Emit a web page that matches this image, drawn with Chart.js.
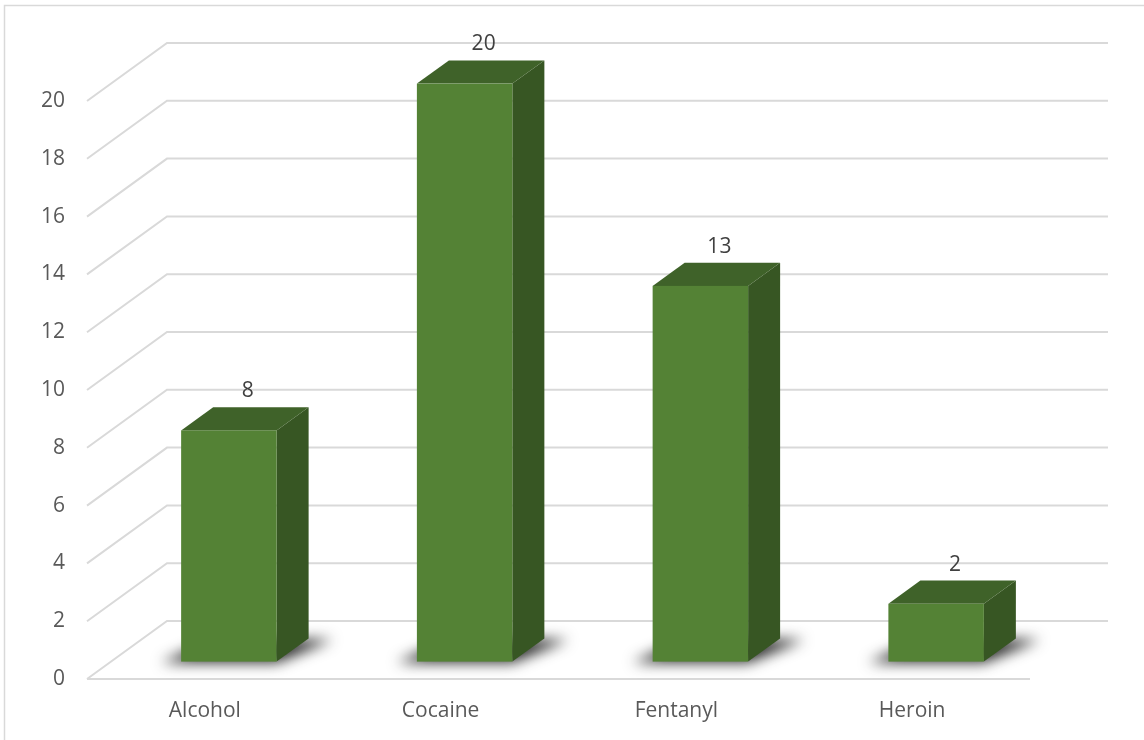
<!DOCTYPE html>
<html>
<head>
<meta charset="utf-8">
<script src="https://cdn.jsdelivr.net/npm/chart.js@4.4.0/dist/chart.umd.min.js"></script>
<style>
html,body{margin:0;padding:0;background:#fff;}
#wrap{width:1144px;height:740px;position:relative;}
</style>
</head>
<body>
<div id="wrap"><canvas id="c" width="1144" height="740"></canvas></div>
<script>
const categories = ["Alcohol", "Cocaine", "Fentanyl", "Heroin"];
const values = [8, 20, 13, 2];
const yTicks = [0, 2, 4, 6, 8, 10, 12, 14, 16, 18, 20];

const DEPTH_X = 80, DEPTH_Y = -58;
const BAR_FRONT = 0.3, BAR_BACK = 0.7;
const FONT = "'Open Sans', sans-serif";

const threeD = {
  id: 'threeD',
  beforeDraw(chart) {
    const ctx = chart.ctx;
    ctx.save();
    ctx.strokeStyle = '#d9d9d9';
    ctx.lineWidth = 1.5;
    ctx.strokeRect(4.5, 5.5, 1200, 800);
    ctx.restore();
  },
  beforeDatasetsDraw(chart) {
    const ctx = chart.ctx, y = chart.scales.y, a = chart.chartArea;
    ctx.save();
    ctx.strokeStyle = '#d9d9d9';
    ctx.lineWidth = 2;
    yTicks.forEach(v => {
      const yf = y.getPixelForValue(v);
      ctx.beginPath();
      ctx.moveTo(a.left, yf);
      ctx.lineTo(a.left + DEPTH_X, yf + DEPTH_Y);
      ctx.lineTo(a.right + DEPTH_X - 2, yf + DEPTH_Y);
      ctx.stroke();
    });
    const y0 = y.getPixelForValue(0);
    ctx.beginPath();
    ctx.moveTo(a.left, y0);
    ctx.lineTo(a.right, y0);
    ctx.stroke();
    ctx.restore();
  },
  afterDatasetsDraw(chart) {
    const ctx = chart.ctx;
    const meta = chart.getDatasetMeta(0);
    const fx = DEPTH_X * BAR_FRONT, fy = DEPTH_Y * BAR_FRONT;
    const dx = DEPTH_X * (BAR_BACK - BAR_FRONT), dy = DEPTH_Y * (BAR_BACK - BAR_FRONT);
    meta.data.forEach((bar, i) => {
      const w = bar.width;
      const L = bar.x - w / 2 + fx, R = bar.x + w / 2 + fx;
      const T = bar.y + fy, B = bar.base + fy;
      // shadow
      ctx.save();
      ctx.filter = 'blur(7px)';
      ctx.fillStyle = 'rgba(25,25,25,0.95)';
      ctx.beginPath();
      ctx.moveTo(L - 20, B + 1);
      ctx.lineTo(R, B + 1);
      ctx.lineTo(R + dx + 24, B + dy + 1);
      ctx.lineTo(L + dx, B + dy + 1);
      ctx.closePath();
      ctx.fill();
      ctx.restore();
      ctx.save();
      // right face
      ctx.fillStyle = '#375623';
      ctx.beginPath();
      ctx.moveTo(R, B); ctx.lineTo(R, T); ctx.lineTo(R + dx, T + dy); ctx.lineTo(R + dx, B + dy);
      ctx.closePath(); ctx.fill();
      // top face
      ctx.fillStyle = '#3f6229';
      ctx.beginPath();
      ctx.moveTo(L, T); ctx.lineTo(R, T); ctx.lineTo(R + dx, T + dy); ctx.lineTo(L + dx, T + dy);
      ctx.closePath(); ctx.fill();
      // front face
      ctx.fillStyle = '#548235';
      ctx.fillRect(L, T, w, B - T);
      // label
      ctx.fillStyle = '#404040';
      ctx.font = '21px ' + FONT;
      ctx.textAlign = 'center';
      ctx.textBaseline = 'middle';
      ctx.fillText(String(values[i]), bar.x + fx + 19, T + dy - 16);
      ctx.restore();
    });
  }
};

new Chart(document.getElementById('c'), {
  type: 'bar',
  data: {
    labels: categories,
    datasets: [{
      data: values,
      backgroundColor: 'rgba(0,0,0,0)',
      borderWidth: 0,
      categoryPercentage: 1,
      barPercentage: 0.405
    }]
  },
  options: {
    responsive: false,
    animation: false,
    events: [],
    layout: { padding: { left: 0, right: 114, top: 101, bottom: 0 } },
    plugins: { legend: { display: false }, tooltip: { enabled: false }, title: { display: false } },
    scales: {
      x: {
        grid: { display: false, drawTicks: false },
        border: { display: false },
        ticks: { color: '#595959', font: { family: FONT, size: 21 }, padding: 19 },
        afterFit: s => { s.height = 61; }
      },
      y: {
        min: 0, max: 20,
        grid: { display: false, drawTicks: false },
        border: { display: false },
        ticks: { stepSize: 2, color: '#595959', font: { family: FONT, size: 21 }, padding: 22 },
        afterFit: s => { s.width = 87; }
      }
    }
  },
  plugins: [threeD]
});
</script>
</body>
</html>
